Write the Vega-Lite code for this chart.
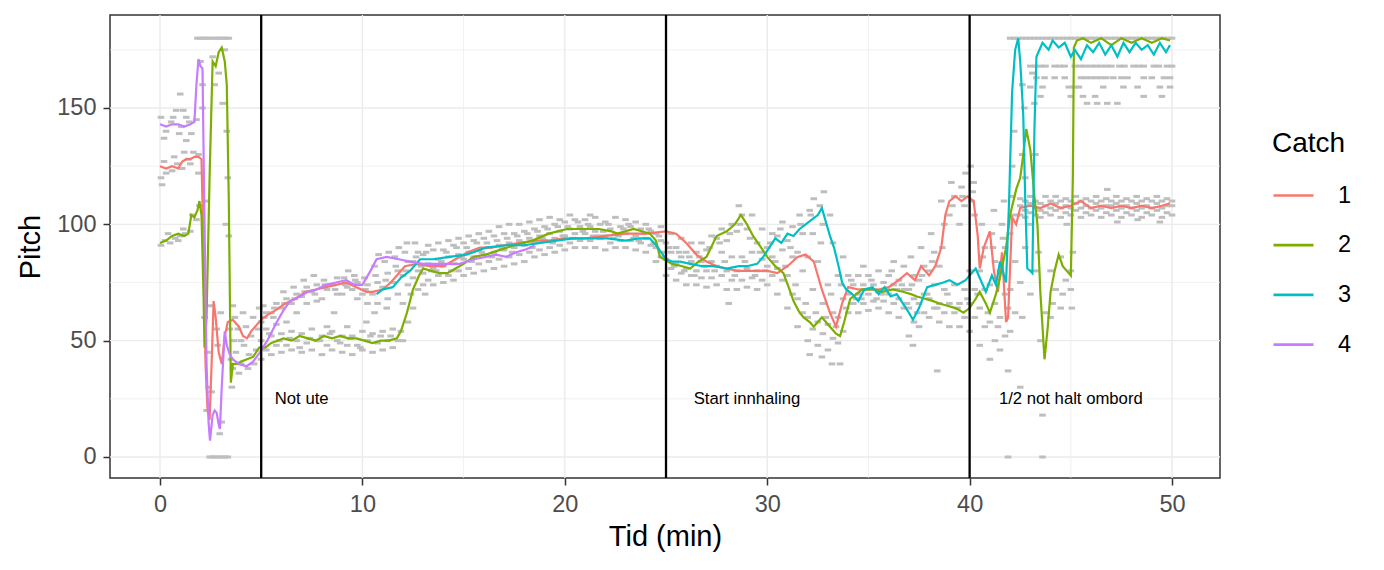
{
  "$schema": "https://vega.github.io/schema/vega-lite/v6.json",
  "width": 1110,
  "height": 463,
  "autosize": {"type": "none"},
  "padding": {"left": 110, "top": 15, "right": 164, "bottom": 92},
  "config": {
    "font": "Liberation Sans",
    "view": {"stroke": "#333333", "strokeWidth": 1.5},
    "axis": {
      "grid": false,
      "domain": false,
      "labelFont": "Liberation Sans",
      "labelFontSize": 23.5,
      "labelColor": "#4D4D4D",
      "tickColor": "#333333",
      "tickWidth": 1.5,
      "tickSize": 7,
      "labelPadding": 7,
      "titleFont": "Liberation Sans",
      "titleFontSize": 29,
      "titleFontWeight": "normal",
      "titleColor": "#000000"
    }
  },
  "datasets": {
    "gx": [
      {"t": 0, "k": "M"}, {"t": 10, "k": "M"}, {"t": 20, "k": "M"}, {"t": 30, "k": "M"}, {"t": 40, "k": "M"}, {"t": 50, "k": "M"},
      {"t": 5, "k": "m"}, {"t": 15, "k": "m"}, {"t": 25, "k": "m"}, {"t": 35, "k": "m"}, {"t": 45, "k": "m"}
    ],
    "gy": [
      {"p": 0, "k": "M"}, {"p": 50, "k": "M"}, {"p": 100, "k": "M"}, {"p": 150, "k": "M"},
      {"p": 25, "k": "m"}, {"p": 75, "k": "m"}, {"p": 125, "k": "m"}, {"p": 175, "k": "m"}
    ],
    "vlines": [{"t": 5}, {"t": 25}, {"t": 40}],
    "notes": [
      {"t": 7, "p": 25, "label": "Not ute"},
      {"t": 29, "p": 25, "label": "Start innhaling"},
      {"t": 45, "p": 25, "label": "1/2 not halt ombord"}
    ],
    "raw": [
      {"t":0.05,"p":91},{"t":0.25,"p":93},{"t":0.5,"p":92},{"t":0.75,"p":94},{"t":1.0,"p":95},{"t":1.25,"p":96},{"t":1.5,"p":97},{"t":0.4,"p":96},{"t":0.9,"p":93},{"t":1.15,"p":98},{"t":1.6,"p":104},{"t":1.8,"p":102},{"t":1.95,"p":108},
      {"t":0.05,"p":120},{"t":0.3,"p":122},{"t":0.6,"p":123},{"t":0.85,"p":126},{"t":1.1,"p":124},{"t":1.4,"p":128},{"t":1.65,"p":131},{"t":1.9,"p":130},{"t":0.2,"p":127},{"t":0.7,"p":129},{"t":1.2,"p":131},{"t":1.5,"p":126},{"t":0.1,"p":117},{"t":1.9,"p":122},
      {"t":0.05,"p":146},{"t":0.3,"p":140},{"t":0.55,"p":144},{"t":0.8,"p":149},{"t":1.05,"p":142},{"t":1.3,"p":146},{"t":1.55,"p":139},{"t":1.8,"p":145},{"t":0.2,"p":137},{"t":0.65,"p":146},{"t":1.15,"p":149},{"t":1.45,"p":144},{"t":0.95,"p":139},{"t":1.3,"p":136},{"t":1.0,"p":156},
      {"t":1.85,"p":180},{"t":2.0,"p":180},{"t":2.15,"p":180},{"t":2.3,"p":180},{"t":2.45,"p":180},{"t":2.65,"p":180},{"t":2.8,"p":180},{"t":2.95,"p":180},{"t":3.1,"p":180},{"t":3.25,"p":180},{"t":3.4,"p":180},
      {"t":2.45,"p":0},{"t":2.6,"p":0},{"t":2.75,"p":0},{"t":2.9,"p":0},{"t":3.05,"p":0},{"t":3.2,"p":0},{"t":3.35,"p":0},
      {"t":2.0,"p":170},{"t":2.1,"p":160},{"t":2.1,"p":150},{"t":2.25,"p":110},{"t":2.2,"p":60},{"t":2.3,"p":20},{"t":2.4,"p":30},{"t":2.35,"p":45},{"t":2.5,"p":65},{"t":2.6,"p":172},{"t":2.7,"p":160},{"t":2.8,"p":55},{"t":2.85,"p":48},{"t":2.9,"p":165},{"t":3.0,"p":62},{"t":3.05,"p":15},{"t":3.1,"p":152},{"t":3.2,"p":175},{"t":3.25,"p":100},{"t":3.3,"p":140},{"t":3.35,"p":120},{"t":3.4,"p":95},{"t":2.95,"p":10},{"t":2.55,"p":28},{"t":3.45,"p":55},
      {"t":3.5,"p":42},{"t":3.6,"p":38},{"t":3.7,"p":60},{"t":3.75,"p":45},{"t":3.85,"p":55},{"t":3.9,"p":36},{"t":4.0,"p":40},{"t":4.1,"p":62},{"t":4.15,"p":48},{"t":4.25,"p":56},{"t":4.35,"p":38},{"t":4.4,"p":44},{"t":4.5,"p":52},{"t":4.6,"p":60},{"t":4.65,"p":40},{"t":4.75,"p":46},{"t":4.85,"p":55},{"t":4.9,"p":64},{"t":3.6,"p":65},{"t":4.0,"p":50},{"t":3.55,"p":30},{"t":3.65,"p":50},
      {"t":5.0,"p":42},{"t":5.25,"p":46},{"t":5.0,"p":50},{"t":5.25,"p":55},{"t":5.0,"p":58},{"t":5.25,"p":62},{"t":5.1,"p":65},
      {"t":5.5,"p":44},{"t":5.75,"p":48},{"t":5.5,"p":52},{"t":5.75,"p":57},{"t":5.5,"p":62},{"t":5.75,"p":66},{"t":5.6,"p":60},
      {"t":6.0,"p":45},{"t":6.25,"p":48},{"t":6.0,"p":53},{"t":6.25,"p":58},{"t":6.0,"p":64},{"t":6.25,"p":68},{"t":6.1,"p":71},
      {"t":6.5,"p":46},{"t":6.75,"p":50},{"t":6.5,"p":54},{"t":6.75,"p":62},{"t":6.5,"p":66},{"t":6.75,"p":70},{"t":6.6,"p":73},
      {"t":7.0,"p":45},{"t":7.25,"p":49},{"t":7.0,"p":53},{"t":7.25,"p":66},{"t":7.0,"p":69},{"t":7.25,"p":73},{"t":7.1,"p":76},
      {"t":7.5,"p":46},{"t":7.75,"p":50},{"t":7.5,"p":55},{"t":7.75,"p":67},{"t":7.5,"p":71},{"t":7.75,"p":74},{"t":7.6,"p":78},
      {"t":8.0,"p":44},{"t":8.25,"p":48},{"t":8.0,"p":52},{"t":8.25,"p":56},{"t":8.0,"p":68},{"t":8.25,"p":72},{"t":8.1,"p":76},
      {"t":8.5,"p":46},{"t":8.75,"p":50},{"t":8.5,"p":54},{"t":8.75,"p":70},{"t":8.5,"p":74},{"t":8.75,"p":77},{"t":8.6,"p":62},
      {"t":9.0,"p":45},{"t":9.25,"p":48},{"t":9.0,"p":52},{"t":9.25,"p":56},{"t":9.0,"p":70},{"t":9.25,"p":73},{"t":9.1,"p":77},{"t":9.3,"p":80},
      {"t":9.5,"p":44},{"t":9.75,"p":48},{"t":9.5,"p":52},{"t":9.75,"p":68},{"t":9.5,"p":72},{"t":9.75,"p":75},{"t":9.6,"p":78},
      {"t":10.0,"p":46},{"t":10.25,"p":50},{"t":10.0,"p":54},{"t":10.25,"p":66},{"t":10.0,"p":70},{"t":10.25,"p":74},{"t":10.1,"p":77},{"t":10.2,"p":58},
      {"t":10.5,"p":45},{"t":10.75,"p":49},{"t":10.5,"p":53},{"t":10.75,"p":66},{"t":10.5,"p":70},{"t":10.75,"p":75},{"t":10.6,"p":82},{"t":10.8,"p":87},{"t":10.6,"p":62},
      {"t":11.0,"p":46},{"t":11.25,"p":50},{"t":11.0,"p":54},{"t":11.25,"p":68},{"t":11.0,"p":73},{"t":11.25,"p":79},{"t":11.1,"p":84},{"t":11.3,"p":88},{"t":11.2,"p":64},
      {"t":11.5,"p":47},{"t":11.75,"p":50},{"t":11.5,"p":55},{"t":11.75,"p":70},{"t":11.5,"p":75},{"t":11.75,"p":80},{"t":11.6,"p":86},{"t":11.8,"p":90},
      {"t":12.0,"p":50},{"t":12.25,"p":58},{"t":12.0,"p":66},{"t":12.25,"p":74},{"t":12.0,"p":78},{"t":12.25,"p":84},{"t":12.1,"p":88},{"t":12.2,"p":92},
      {"t":12.5,"p":64},{"t":12.75,"p":72},{"t":12.5,"p":77},{"t":12.75,"p":80},{"t":12.5,"p":84},{"t":12.75,"p":88},{"t":12.6,"p":92},
      {"t":13.0,"p":74},{"t":13.25,"p":76},{"t":13.0,"p":79},{"t":13.25,"p":83},{"t":13.0,"p":87},{"t":13.25,"p":91},{"t":13.1,"p":70},
      {"t":13.5,"p":74},{"t":13.75,"p":78},{"t":13.5,"p":81},{"t":13.75,"p":85},{"t":13.5,"p":89},{"t":13.75,"p":92},
      {"t":14.0,"p":75},{"t":14.25,"p":78},{"t":14.0,"p":82},{"t":14.25,"p":86},{"t":14.0,"p":89},{"t":14.25,"p":93},
      {"t":14.5,"p":76},{"t":14.75,"p":80},{"t":14.5,"p":83},{"t":14.75,"p":87},{"t":14.5,"p":91},{"t":14.75,"p":94},
      {"t":15.0,"p":78},{"t":15.25,"p":81},{"t":15.0,"p":85},{"t":15.25,"p":88},{"t":15.0,"p":92},{"t":15.25,"p":95},
      {"t":15.5,"p":79},{"t":15.75,"p":83},{"t":15.5,"p":86},{"t":15.75,"p":89},{"t":15.5,"p":93},{"t":15.75,"p":96},
      {"t":16.0,"p":80},{"t":16.25,"p":84},{"t":16.0,"p":87},{"t":16.25,"p":90},{"t":16.0,"p":94},{"t":16.25,"p":97},
      {"t":16.5,"p":81},{"t":16.75,"p":85},{"t":16.5,"p":88},{"t":16.75,"p":91},{"t":16.5,"p":95},{"t":16.75,"p":99},
      {"t":17.0,"p":82},{"t":17.25,"p":86},{"t":17.0,"p":89},{"t":17.25,"p":92},{"t":17.0,"p":96},{"t":17.25,"p":100},
      {"t":17.5,"p":83},{"t":17.75,"p":87},{"t":17.5,"p":90},{"t":17.75,"p":93},{"t":17.5,"p":96},{"t":17.75,"p":100},
      {"t":18.0,"p":84},{"t":18.25,"p":88},{"t":18.0,"p":91},{"t":18.25,"p":94},{"t":18.0,"p":97},{"t":18.25,"p":101},
      {"t":18.5,"p":86},{"t":18.75,"p":89},{"t":18.5,"p":92},{"t":18.75,"p":95},{"t":18.5,"p":98},{"t":18.75,"p":102},
      {"t":19.0,"p":87},{"t":19.25,"p":90},{"t":19.0,"p":93},{"t":19.25,"p":96},{"t":19.0,"p":99},{"t":19.25,"p":103},
      {"t":19.5,"p":88},{"t":19.75,"p":91},{"t":19.5,"p":94},{"t":19.75,"p":97},{"t":19.5,"p":100},{"t":19.75,"p":102},
      {"t":20.0,"p":89},{"t":20.25,"p":92},{"t":20.0,"p":95},{"t":20.25,"p":98},{"t":20.0,"p":101},{"t":20.25,"p":104},
      {"t":20.5,"p":90},{"t":20.75,"p":93},{"t":20.5,"p":96},{"t":20.75,"p":99},{"t":20.5,"p":102},
      {"t":21.0,"p":90},{"t":21.25,"p":93},{"t":21.0,"p":96},{"t":21.25,"p":99},{"t":21.0,"p":102},{"t":21.25,"p":104},
      {"t":21.5,"p":90},{"t":21.75,"p":94},{"t":21.5,"p":97},{"t":21.75,"p":100},{"t":21.5,"p":103},
      {"t":22.0,"p":89},{"t":22.25,"p":92},{"t":22.0,"p":95},{"t":22.25,"p":98},{"t":22.0,"p":101},
      {"t":22.5,"p":90},{"t":22.75,"p":93},{"t":22.5,"p":96},{"t":22.75,"p":99},{"t":22.5,"p":103},
      {"t":23.0,"p":90},{"t":23.25,"p":93},{"t":23.0,"p":96},{"t":23.25,"p":99},{"t":23.0,"p":102},
      {"t":23.5,"p":89},{"t":23.75,"p":92},{"t":23.5,"p":95},{"t":23.75,"p":98},{"t":23.5,"p":101},
      {"t":24.0,"p":88},{"t":24.25,"p":91},{"t":24.0,"p":94},{"t":24.25,"p":97},{"t":24.0,"p":100},
      {"t":24.5,"p":84},{"t":24.75,"p":86},{"t":24.5,"p":90},{"t":24.75,"p":93},{"t":24.5,"p":96},{"t":24.75,"p":99},
      {"t":25.0,"p":78},{"t":25.25,"p":81},{"t":25.0,"p":85},{"t":25.25,"p":88},{"t":25.0,"p":92},{"t":25.25,"p":96},
      {"t":25.5,"p":76},{"t":25.75,"p":79},{"t":25.5,"p":83},{"t":25.75,"p":86},{"t":25.5,"p":90},{"t":25.75,"p":94},
      {"t":26.0,"p":74},{"t":26.25,"p":78},{"t":26.0,"p":81},{"t":26.25,"p":84},{"t":26.0,"p":88},{"t":26.25,"p":92},
      {"t":26.5,"p":74},{"t":26.75,"p":77},{"t":26.5,"p":80},{"t":26.75,"p":84},{"t":26.5,"p":88},{"t":26.75,"p":92},
      {"t":27.0,"p":73},{"t":27.25,"p":77},{"t":27.0,"p":80},{"t":27.25,"p":84},{"t":27.0,"p":89},{"t":27.25,"p":95},
      {"t":27.5,"p":74},{"t":27.75,"p":78},{"t":27.5,"p":82},{"t":27.75,"p":88},{"t":27.5,"p":94},{"t":27.75,"p":98},
      {"t":28.0,"p":72},{"t":28.25,"p":76},{"t":28.0,"p":80},{"t":28.25,"p":86},{"t":28.0,"p":93},{"t":28.25,"p":100},{"t":28.1,"p":66},
      {"t":28.5,"p":72},{"t":28.75,"p":76},{"t":28.5,"p":80},{"t":28.75,"p":86},{"t":28.5,"p":97},{"t":28.75,"p":104},{"t":28.6,"p":108},
      {"t":29.0,"p":73},{"t":29.25,"p":77},{"t":29.0,"p":81},{"t":29.25,"p":88},{"t":29.0,"p":98},{"t":29.25,"p":104},
      {"t":29.5,"p":72},{"t":29.75,"p":76},{"t":29.5,"p":80},{"t":29.75,"p":85},{"t":29.5,"p":92},{"t":29.75,"p":98},
      {"t":30.0,"p":74},{"t":30.25,"p":78},{"t":30.0,"p":82},{"t":30.25,"p":86},{"t":30.0,"p":90},{"t":30.25,"p":96},
      {"t":30.5,"p":70},{"t":30.75,"p":76},{"t":30.5,"p":81},{"t":30.75,"p":89},{"t":30.5,"p":95},{"t":30.75,"p":101},
      {"t":31.0,"p":64},{"t":31.25,"p":70},{"t":31.0,"p":78},{"t":31.25,"p":86},{"t":31.0,"p":93},{"t":31.25,"p":99},
      {"t":31.5,"p":56},{"t":31.75,"p":62},{"t":31.5,"p":68},{"t":31.75,"p":80},{"t":31.5,"p":88},{"t":31.75,"p":96},{"t":31.6,"p":104},
      {"t":32.0,"p":50},{"t":32.25,"p":55},{"t":32.0,"p":60},{"t":32.25,"p":72},{"t":32.0,"p":86},{"t":32.25,"p":96},{"t":32.1,"p":106},{"t":32.3,"p":111},{"t":32.1,"p":44},
      {"t":32.5,"p":48},{"t":32.75,"p":53},{"t":32.5,"p":58},{"t":32.75,"p":66},{"t":32.5,"p":84},{"t":32.75,"p":100},{"t":32.6,"p":108},{"t":32.8,"p":114},{"t":32.7,"p":43},
      {"t":33.0,"p":46},{"t":33.25,"p":51},{"t":33.0,"p":57},{"t":33.25,"p":62},{"t":33.0,"p":74},{"t":33.25,"p":92},{"t":33.1,"p":104},{"t":33.2,"p":40},
      {"t":33.5,"p":49},{"t":33.75,"p":54},{"t":33.5,"p":60},{"t":33.75,"p":68},{"t":33.5,"p":78},{"t":33.75,"p":86},{"t":33.6,"p":40},
      {"t":34.0,"p":62},{"t":34.25,"p":66},{"t":34.0,"p":70},{"t":34.25,"p":74},{"t":34.0,"p":78},
      {"t":34.5,"p":62},{"t":34.75,"p":66},{"t":34.5,"p":70},{"t":34.75,"p":74},{"t":34.5,"p":78},{"t":34.75,"p":82},
      {"t":35.0,"p":63},{"t":35.25,"p":67},{"t":35.0,"p":70},{"t":35.25,"p":74},{"t":35.0,"p":78},
      {"t":35.5,"p":64},{"t":35.75,"p":67},{"t":35.5,"p":71},{"t":35.75,"p":75},{"t":35.5,"p":80},
      {"t":36.0,"p":62},{"t":36.25,"p":66},{"t":36.0,"p":70},{"t":36.25,"p":74},{"t":36.0,"p":78},{"t":36.25,"p":84},
      {"t":36.5,"p":60},{"t":36.75,"p":64},{"t":36.5,"p":68},{"t":36.75,"p":72},{"t":36.5,"p":76},{"t":36.75,"p":82},
      {"t":37.0,"p":52},{"t":37.25,"p":58},{"t":37.0,"p":64},{"t":37.25,"p":68},{"t":37.0,"p":72},{"t":37.25,"p":78},{"t":37.1,"p":86},{"t":37.2,"p":48},
      {"t":37.5,"p":56},{"t":37.75,"p":62},{"t":37.5,"p":66},{"t":37.75,"p":70},{"t":37.5,"p":76},{"t":37.75,"p":82},{"t":37.6,"p":90},
      {"t":38.0,"p":60},{"t":38.25,"p":64},{"t":38.0,"p":68},{"t":38.25,"p":74},{"t":38.0,"p":80},{"t":38.25,"p":88},{"t":38.1,"p":96},
      {"t":38.4,"p":37},{"t":38.5,"p":58},{"t":38.75,"p":62},{"t":38.5,"p":66},{"t":38.75,"p":72},{"t":38.5,"p":82},{"t":38.75,"p":100},{"t":38.6,"p":110},
      {"t":39.0,"p":56},{"t":39.25,"p":62},{"t":39.0,"p":66},{"t":39.25,"p":74},{"t":39.0,"p":104},{"t":39.25,"p":112},{"t":39.1,"p":118},
      {"t":39.5,"p":56},{"t":39.75,"p":60},{"t":39.5,"p":66},{"t":39.75,"p":72},{"t":39.5,"p":100},{"t":39.75,"p":108},{"t":39.6,"p":116},{"t":39.8,"p":122},
      {"t":40.0,"p":54},{"t":40.25,"p":60},{"t":40.0,"p":66},{"t":40.25,"p":72},{"t":40.0,"p":80},{"t":40.25,"p":104},{"t":40.1,"p":110},{"t":40.2,"p":118},{"t":40.05,"p":125},
      {"t":40.5,"p":48},{"t":40.75,"p":56},{"t":40.5,"p":64},{"t":40.75,"p":72},{"t":40.5,"p":80},{"t":40.75,"p":90},{"t":40.6,"p":100},
      {"t":41.0,"p":42},{"t":41.25,"p":50},{"t":41.0,"p":58},{"t":41.25,"p":66},{"t":41.0,"p":74},{"t":41.25,"p":84},{"t":41.1,"p":96},{"t":41.2,"p":106},
      {"t":41.5,"p":46},{"t":41.75,"p":52},{"t":41.5,"p":60},{"t":41.75,"p":70},{"t":41.5,"p":80},{"t":41.75,"p":90},{"t":41.6,"p":100},{"t":41.7,"p":110},
      {"t":5.4,"p":53},{"t":5.15,"p":60},{"t":5.9,"p":50},{"t":5.65,"p":64},{"t":6.4,"p":51},{"t":6.15,"p":66},{"t":6.9,"p":47},{"t":6.65,"p":68},{"t":7.4,"p":51},{"t":7.15,"p":71},
      {"t":7.9,"p":50},{"t":7.65,"p":70},{"t":8.4,"p":53},{"t":8.15,"p":74},{"t":8.9,"p":49},{"t":8.65,"p":72},{"t":9.4,"p":51},{"t":9.15,"p":74},{"t":9.9,"p":47},{"t":9.65,"p":76},
      {"t":10.4,"p":52},{"t":10.15,"p":72},{"t":10.9,"p":52},{"t":10.65,"p":78},{"t":11.4,"p":52},{"t":11.15,"p":76},{"t":11.9,"p":54},{"t":11.65,"p":82},{"t":12.4,"p":70},{"t":12.15,"p":80},
      {"t":12.9,"p":82},{"t":12.65,"p":86},{"t":13.4,"p":80},{"t":13.15,"p":88},{"t":13.9,"p":84},{"t":13.65,"p":80},{"t":14.4,"p":80},{"t":14.15,"p":88},{"t":14.9,"p":86},{"t":14.65,"p":90},
      {"t":15.4,"p":84},{"t":15.15,"p":90},{"t":15.9,"p":88},{"t":15.65,"p":92},{"t":16.4,"p":86},{"t":16.15,"p":92},{"t":16.9,"p":90},{"t":16.65,"p":93},{"t":17.4,"p":88},{"t":17.15,"p":94},
      {"t":17.9,"p":92},{"t":17.65,"p":95},{"t":18.4,"p":90},{"t":18.15,"p":96},{"t":18.9,"p":94},{"t":18.65,"p":97},{"t":19.4,"p":92},{"t":19.15,"p":98},{"t":19.9,"p":95},{"t":19.65,"p":99},
      {"t":20.4,"p":94},{"t":20.15,"p":99},{"t":20.9,"p":97},{"t":20.65,"p":101},{"t":21.4,"p":95},{"t":21.15,"p":100},{"t":21.9,"p":97},{"t":21.65,"p":95},{"t":22.4,"p":94},{"t":22.15,"p":100},
      {"t":22.9,"p":98},{"t":22.65,"p":95},{"t":23.4,"p":94},{"t":23.15,"p":100},{"t":23.9,"p":96},{"t":23.65,"p":93},{"t":24.4,"p":92},{"t":24.15,"p":98},{"t":24.9,"p":88},{"t":24.65,"p":95},
      {"t":25.4,"p":82},{"t":25.15,"p":90},{"t":25.9,"p":80},{"t":25.65,"p":88},{"t":26.4,"p":78},{"t":26.15,"p":86},{"t":26.9,"p":82},{"t":26.65,"p":86},{"t":27.4,"p":80},{"t":27.15,"p":90},
      {"t":27.9,"p":84},{"t":27.65,"p":92},{"t":28.4,"p":78},{"t":28.15,"p":96},{"t":28.9,"p":84},{"t":28.65,"p":100},{"t":29.4,"p":78},{"t":29.15,"p":94},{"t":29.9,"p":80},{"t":29.65,"p":88},
      {"t":30.4,"p":84},{"t":30.15,"p":92},{"t":30.9,"p":82},{"t":30.65,"p":98},{"t":31.4,"p":74},{"t":31.15,"p":90},{"t":31.9,"p":66},{"t":31.65,"p":100},{"t":32.4,"p":62},{"t":32.15,"p":104},
      {"t":32.9,"p":60},{"t":32.65,"p":92},{"t":33.4,"p":56},{"t":33.15,"p":70},{"t":33.9,"p":64},{"t":33.65,"p":74},{"t":34.4,"p":68},{"t":34.15,"p":76},{"t":34.9,"p":72},{"t":34.65,"p":68},
      {"t":35.4,"p":68},{"t":35.15,"p":76},{"t":35.9,"p":72},{"t":35.65,"p":70},{"t":36.4,"p":72},{"t":36.15,"p":80},{"t":36.9,"p":66},{"t":36.65,"p":74},{"t":37.4,"p":62},{"t":37.15,"p":74},
      {"t":37.9,"p":70},{"t":37.65,"p":78},{"t":38.4,"p":64},{"t":38.15,"p":84},{"t":38.9,"p":70},{"t":38.65,"p":90},{"t":39.4,"p":64},{"t":39.15,"p":108},{"t":39.9,"p":68},{"t":39.65,"p":112},
      {"t":40.4,"p":70},{"t":40.15,"p":114},{"t":40.9,"p":62},{"t":40.65,"p":86},{"t":41.4,"p":56},{"t":41.15,"p":90},{"t":41.9,"p":64},{"t":41.65,"p":94},
      {"t":41.9,"p":0},{"t":41.9,"p":37},{"t":42.0,"p":54},{"t":42.25,"p":62},{"t":42.0,"p":72},{"t":42.25,"p":84},{"t":42.0,"p":96},{"t":42.25,"p":104},{"t":42.1,"p":112},{"t":42.1,"p":125},{"t":42.2,"p":140},
      {"t":42.5,"p":30},{"t":42.6,"p":60},{"t":42.5,"p":75},{"t":42.75,"p":90},{"t":42.75,"p":120},{"t":42.6,"p":130},{"t":42.7,"p":150},{"t":42.6,"p":160},
      {"t":43.0,"p":70},{"t":43.25,"p":80},{"t":43.0,"p":100},{"t":43.25,"p":130},{"t":43.1,"p":165},{"t":43.2,"p":152},
      {"t":43.6,"p":0},{"t":43.6,"p":18},{"t":43.5,"p":50},{"t":43.75,"p":62},{"t":43.4,"p":88},
      {"t":44.0,"p":60},{"t":44.25,"p":72},{"t":44.0,"p":80},{"t":44.1,"p":66},
      {"t":44.5,"p":64},{"t":44.75,"p":76},{"t":44.5,"p":86},{"t":44.6,"p":70},
      {"t":45.0,"p":72},{"t":45.0,"p":80},{"t":45.1,"p":88},{"t":45.05,"p":64},
      {"t":42.5,"p":104},{"t":42.5,"p":108},{"t":42.5,"p":111},{"t":42.75,"p":106},{"t":42.75,"p":110},{"t":42.75,"p":103},
      {"t":43.0,"p":105},{"t":43.0,"p":109},{"t":43.0,"p":112},{"t":43.25,"p":104},{"t":43.25,"p":107},{"t":43.25,"p":110},
      {"t":43.5,"p":106},{"t":43.5,"p":109},{"t":43.5,"p":103},{"t":43.75,"p":105},{"t":43.75,"p":108},{"t":43.75,"p":112},
      {"t":44.0,"p":104},{"t":44.0,"p":107},{"t":44.0,"p":110},{"t":44.25,"p":106},{"t":44.25,"p":109},{"t":44.25,"p":112},
      {"t":44.5,"p":103},{"t":44.5,"p":107},{"t":44.5,"p":110},{"t":44.75,"p":105},{"t":44.75,"p":108},{"t":44.75,"p":111},
      {"t":45.0,"p":104},{"t":45.0,"p":107},{"t":45.0,"p":110},{"t":45.25,"p":106},{"t":45.25,"p":109},{"t":45.25,"p":112},
      {"t":45.5,"p":103},{"t":45.5,"p":107},{"t":45.5,"p":110},{"t":45.75,"p":105},{"t":45.75,"p":108},{"t":45.75,"p":111},
      {"t":46.0,"p":104},{"t":46.0,"p":107},{"t":46.0,"p":110},{"t":46.25,"p":106},{"t":46.25,"p":109},{"t":46.25,"p":112},
      {"t":46.5,"p":103},{"t":46.5,"p":107},{"t":46.5,"p":110},{"t":46.75,"p":105},{"t":46.75,"p":108},{"t":46.75,"p":111},
      {"t":47.0,"p":104},{"t":47.0,"p":108},{"t":47.0,"p":110},{"t":47.25,"p":106},{"t":47.25,"p":109},{"t":47.25,"p":112},
      {"t":47.5,"p":103},{"t":47.5,"p":107},{"t":47.5,"p":110},{"t":47.75,"p":105},{"t":47.75,"p":108},{"t":47.75,"p":111},
      {"t":48.0,"p":104},{"t":48.0,"p":107},{"t":48.0,"p":110},{"t":48.25,"p":106},{"t":48.25,"p":109},{"t":48.25,"p":112},
      {"t":48.5,"p":103},{"t":48.5,"p":107},{"t":48.5,"p":110},{"t":48.75,"p":105},{"t":48.75,"p":108},{"t":48.75,"p":111},
      {"t":49.0,"p":104},{"t":49.0,"p":107},{"t":49.0,"p":110},{"t":49.25,"p":106},{"t":49.25,"p":109},{"t":49.25,"p":112},
      {"t":49.5,"p":103},{"t":49.5,"p":107},{"t":49.5,"p":110},{"t":49.75,"p":105},{"t":49.75,"p":108},{"t":49.75,"p":111},
      {"t":50.0,"p":104},{"t":50.0,"p":108},{"t":50.0,"p":110},
      {"t":46.8,"p":115},{"t":48.3,"p":102},{"t":47.3,"p":101},{"t":44.8,"p":100},{"t":49.4,"p":101},
      {"t":42.0,"p":180},{"t":42.2,"p":180},{"t":42.4,"p":180},{"t":42.6,"p":180},{"t":42.8,"p":180},{"t":43.0,"p":180},{"t":43.2,"p":180},{"t":43.4,"p":180},{"t":43.6,"p":180},{"t":43.8,"p":180},
      {"t":44.0,"p":180},{"t":44.2,"p":180},{"t":44.4,"p":180},{"t":44.6,"p":180},{"t":44.8,"p":180},{"t":45.0,"p":180},{"t":45.2,"p":180},{"t":45.4,"p":180},{"t":45.6,"p":180},{"t":45.8,"p":180},
      {"t":46.0,"p":180},{"t":46.2,"p":180},{"t":46.4,"p":180},{"t":46.6,"p":180},{"t":46.8,"p":180},{"t":47.0,"p":180},{"t":47.2,"p":180},{"t":47.4,"p":180},{"t":47.6,"p":180},{"t":47.8,"p":180},
      {"t":48.0,"p":180},{"t":48.2,"p":180},{"t":48.4,"p":180},{"t":48.6,"p":180},{"t":48.8,"p":180},{"t":49.0,"p":180},{"t":49.2,"p":180},{"t":49.4,"p":180},{"t":49.6,"p":180},{"t":49.8,"p":180},{"t":50.0,"p":180},
      {"t":43.0,"p":168},{"t":43.25,"p":168},{"t":43.5,"p":168},{"t":43.75,"p":168},{"t":44.2,"p":168},{"t":44.45,"p":168},{"t":44.7,"p":168},{"t":45.2,"p":168},{"t":45.45,"p":168},{"t":45.7,"p":168},
      {"t":46.0,"p":168},{"t":46.25,"p":168},{"t":46.5,"p":168},{"t":46.75,"p":168},{"t":47.0,"p":168},{"t":47.4,"p":168},{"t":47.65,"p":168},{"t":48.1,"p":168},{"t":48.35,"p":168},{"t":48.6,"p":168},
      {"t":49.1,"p":168},{"t":49.35,"p":168},{"t":49.75,"p":168},{"t":50.0,"p":168},
      {"t":43.3,"p":163},{"t":43.7,"p":163},{"t":44.2,"p":163},{"t":44.7,"p":163},{"t":45.5,"p":163},{"t":45.75,"p":163},{"t":46.0,"p":163},{"t":46.25,"p":163},{"t":46.5,"p":163},{"t":46.75,"p":163},{"t":47.1,"p":163},{"t":47.5,"p":163},{"t":47.8,"p":163},{"t":48.6,"p":163},{"t":49.0,"p":163},{"t":49.6,"p":163},{"t":49.9,"p":163},
      {"t":43.0,"p":159},{"t":43.6,"p":159},{"t":44.9,"p":159},{"t":45.2,"p":159},{"t":45.4,"p":159},{"t":46.6,"p":159},{"t":47.6,"p":159},{"t":48.3,"p":159},{"t":49.4,"p":159},{"t":49.9,"p":159},
      {"t":43.5,"p":155},{"t":45.0,"p":155},{"t":45.6,"p":155},{"t":46.2,"p":155},{"t":48.6,"p":155},{"t":49.5,"p":155},
      {"t":45.8,"p":152},{"t":46.3,"p":152},{"t":46.8,"p":152},{"t":47.3,"p":152}
    ],
    "lines": [
      {"c":"1","t":0,"p":125},{"c":"1","t":0.3,"p":124},{"c":"1","t":0.6,"p":125},{"c":"1","t":0.9,"p":124},{"c":"1","t":1.1,"p":127},{"c":"1","t":1.3,"p":128},{"c":"1","t":1.5,"p":128},{"c":"1","t":1.7,"p":129},{"c":"1","t":1.9,"p":129},{"c":"1","t":2.05,"p":128},
      {"c":"1","t":2.15,"p":90},{"c":"1","t":2.25,"p":40},{"c":"1","t":2.35,"p":20},{"c":"1","t":2.45,"p":16},{"c":"1","t":2.55,"p":40},{"c":"1","t":2.65,"p":67},{"c":"1","t":2.75,"p":60},{"c":"1","t":2.9,"p":45},{"c":"1","t":3.05,"p":40},{"c":"1","t":3.2,"p":52},
      {"c":"1","t":3.35,"p":58},{"c":"1","t":3.6,"p":59},{"c":"1","t":3.9,"p":56},{"c":"1","t":4.1,"p":52},{"c":"1","t":4.3,"p":51},{"c":"1","t":4.5,"p":54},{"c":"1","t":4.8,"p":57},{"c":"1","t":5.0,"p":59},{"c":"1","t":5.3,"p":61},{"c":"1","t":5.7,"p":63},
      {"c":"1","t":6.2,"p":66},{"c":"1","t":6.7,"p":68},{"c":"1","t":7.2,"p":71},{"c":"1","t":7.7,"p":72},{"c":"1","t":8.2,"p":73},{"c":"1","t":8.7,"p":74},{"c":"1","t":9.2,"p":75},{"c":"1","t":9.7,"p":73},{"c":"1","t":10.2,"p":71},{"c":"1","t":10.5,"p":71},
      {"c":"1","t":11.0,"p":72},{"c":"1","t":11.4,"p":75},{"c":"1","t":11.8,"p":79},{"c":"1","t":12.1,"p":82},{"c":"1","t":12.7,"p":83},{"c":"1","t":13.3,"p":82},{"c":"1","t":14.0,"p":82},{"c":"1","t":14.6,"p":85},{"c":"1","t":15.2,"p":88},{"c":"1","t":15.8,"p":90},
      {"c":"1","t":16.4,"p":90},{"c":"1","t":17.0,"p":91},{"c":"1","t":17.8,"p":92},{"c":"1","t":18.5,"p":93},{"c":"1","t":19.2,"p":93},{"c":"1","t":20.0,"p":94},{"c":"1","t":21.0,"p":94},{"c":"1","t":22.0,"p":95},{"c":"1","t":23.0,"p":96},{"c":"1","t":24.0,"p":96},
      {"c":"1","t":25.0,"p":97},{"c":"1","t":25.5,"p":96},{"c":"1","t":26.0,"p":92},{"c":"1","t":26.5,"p":87},{"c":"1","t":27.0,"p":84},{"c":"1","t":27.5,"p":82},{"c":"1","t":28.0,"p":81},{"c":"1","t":28.5,"p":80},{"c":"1","t":29.0,"p":80},{"c":"1","t":29.5,"p":80},
      {"c":"1","t":30.0,"p":80},{"c":"1","t":30.5,"p":79},{"c":"1","t":31.0,"p":82},{"c":"1","t":31.5,"p":86},{"c":"1","t":31.9,"p":87},{"c":"1","t":32.3,"p":84},{"c":"1","t":32.7,"p":72},{"c":"1","t":33.1,"p":62},{"c":"1","t":33.4,"p":56},{"c":"1","t":33.7,"p":66},
      {"c":"1","t":34.0,"p":73},{"c":"1","t":34.5,"p":72},{"c":"1","t":35.0,"p":72},{"c":"1","t":35.5,"p":72},{"c":"1","t":36.0,"p":73},{"c":"1","t":36.5,"p":76},{"c":"1","t":36.9,"p":79},{"c":"1","t":37.3,"p":76},{"c":"1","t":37.6,"p":82},{"c":"1","t":38.0,"p":78},
      {"c":"1","t":38.3,"p":82},{"c":"1","t":38.6,"p":90},{"c":"1","t":38.8,"p":104},{"c":"1","t":39.0,"p":110},{"c":"1","t":39.3,"p":112},{"c":"1","t":39.6,"p":110},{"c":"1","t":39.9,"p":112},{"c":"1","t":40.2,"p":110},{"c":"1","t":40.4,"p":95},{"c":"1","t":40.5,"p":81},
      {"c":"1","t":40.7,"p":90},{"c":"1","t":41.0,"p":97},{"c":"1","t":41.2,"p":80},{"c":"1","t":41.4,"p":71},{"c":"1","t":41.6,"p":88},{"c":"1","t":41.8,"p":58},{"c":"1","t":41.9,"p":60},{"c":"1","t":42.1,"p":103},{"c":"1","t":42.3,"p":100},{"c":"1","t":42.5,"p":107},
      {"c":"1","t":43.0,"p":108},{"c":"1","t":43.5,"p":107},{"c":"1","t":44.0,"p":109},{"c":"1","t":44.5,"p":107},{"c":"1","t":45.0,"p":108},{"c":"1","t":45.5,"p":110},{"c":"1","t":46.0,"p":107},{"c":"1","t":46.5,"p":108},{"c":"1","t":47.0,"p":107},{"c":"1","t":47.5,"p":108},
      {"c":"1","t":48.0,"p":107},{"c":"1","t":48.5,"p":108},{"c":"1","t":49.0,"p":107},{"c":"1","t":49.5,"p":108},{"c":"1","t":49.9,"p":109},
      {"c":"2","t":0,"p":92},{"c":"2","t":0.3,"p":93},{"c":"2","t":0.6,"p":95},{"c":"2","t":0.9,"p":96},{"c":"2","t":1.2,"p":95},{"c":"2","t":1.4,"p":96},{"c":"2","t":1.55,"p":104},{"c":"2","t":1.7,"p":103},{"c":"2","t":1.85,"p":106},{"c":"2","t":1.95,"p":110},
      {"c":"2","t":2.05,"p":104},{"c":"2","t":2.15,"p":70},{"c":"2","t":2.2,"p":47},{"c":"2","t":2.3,"p":60},{"c":"2","t":2.45,"p":120},{"c":"2","t":2.6,"p":170},{"c":"2","t":2.75,"p":168},{"c":"2","t":2.9,"p":174},{"c":"2","t":3.05,"p":176},{"c":"2","t":3.2,"p":170},
      {"c":"2","t":3.3,"p":160},{"c":"2","t":3.4,"p":110},{"c":"2","t":3.5,"p":32},{"c":"2","t":3.6,"p":40},{"c":"2","t":3.8,"p":40},{"c":"2","t":4.0,"p":41},{"c":"2","t":4.3,"p":42},{"c":"2","t":4.6,"p":43},{"c":"2","t":4.9,"p":47},{"c":"2","t":5.2,"p":47},
      {"c":"2","t":5.5,"p":49},{"c":"2","t":5.8,"p":50},{"c":"2","t":6.1,"p":51},{"c":"2","t":6.5,"p":50},{"c":"2","t":6.9,"p":52},{"c":"2","t":7.3,"p":51},{"c":"2","t":7.7,"p":50},{"c":"2","t":8.1,"p":52},{"c":"2","t":8.5,"p":51},{"c":"2","t":8.9,"p":52},
      {"c":"2","t":9.3,"p":51},{"c":"2","t":9.7,"p":51},{"c":"2","t":10.1,"p":50},{"c":"2","t":10.5,"p":49},{"c":"2","t":10.9,"p":50},{"c":"2","t":11.3,"p":50},{"c":"2","t":11.7,"p":51},{"c":"2","t":11.9,"p":54},{"c":"2","t":12.2,"p":62},{"c":"2","t":12.5,"p":72},
      {"c":"2","t":12.8,"p":78},{"c":"2","t":13.0,"p":81},{"c":"2","t":13.4,"p":80},{"c":"2","t":13.8,"p":79},{"c":"2","t":14.2,"p":79},{"c":"2","t":14.6,"p":81},{"c":"2","t":15.0,"p":83},{"c":"2","t":15.5,"p":86},{"c":"2","t":16.1,"p":87},{"c":"2","t":16.8,"p":89},
      {"c":"2","t":17.5,"p":91},{"c":"2","t":18.4,"p":93},{"c":"2","t":19.2,"p":96},{"c":"2","t":20.1,"p":98},{"c":"2","t":21.0,"p":98},{"c":"2","t":21.7,"p":98},{"c":"2","t":22.3,"p":97},{"c":"2","t":22.6,"p":96},{"c":"2","t":23.0,"p":97},{"c":"2","t":23.4,"p":98},
      {"c":"2","t":23.8,"p":97},{"c":"2","t":24.2,"p":96},{"c":"2","t":24.5,"p":93},{"c":"2","t":24.7,"p":86},{"c":"2","t":24.9,"p":85},{"c":"2","t":25.3,"p":83},{"c":"2","t":25.8,"p":82},{"c":"2","t":26.2,"p":81},{"c":"2","t":26.6,"p":84},{"c":"2","t":27.0,"p":86},
      {"c":"2","t":27.5,"p":95},{"c":"2","t":28.0,"p":97},{"c":"2","t":28.4,"p":100},{"c":"2","t":28.7,"p":104},{"c":"2","t":29.0,"p":100},{"c":"2","t":29.3,"p":95},{"c":"2","t":29.7,"p":90},{"c":"2","t":30.0,"p":86},{"c":"2","t":30.4,"p":82},{"c":"2","t":30.8,"p":79},
      {"c":"2","t":31.1,"p":72},{"c":"2","t":31.3,"p":67},{"c":"2","t":31.6,"p":62},{"c":"2","t":31.8,"p":60},{"c":"2","t":32.1,"p":58},{"c":"2","t":32.3,"p":56},{"c":"2","t":32.5,"p":58},{"c":"2","t":32.7,"p":60},{"c":"2","t":32.9,"p":58},{"c":"2","t":33.1,"p":56},
      {"c":"2","t":33.4,"p":53},{"c":"2","t":33.6,"p":52},{"c":"2","t":33.8,"p":58},{"c":"2","t":34.1,"p":68},{"c":"2","t":34.4,"p":70},{"c":"2","t":34.7,"p":72},{"c":"2","t":35.2,"p":72},{"c":"2","t":35.7,"p":71},{"c":"2","t":36.2,"p":72},{"c":"2","t":36.7,"p":71},
      {"c":"2","t":37.1,"p":70},{"c":"2","t":37.4,"p":69},{"c":"2","t":37.8,"p":68},{"c":"2","t":38.2,"p":67},{"c":"2","t":38.5,"p":66},{"c":"2","t":38.9,"p":65},{"c":"2","t":39.3,"p":64},{"c":"2","t":39.7,"p":62},{"c":"2","t":40.0,"p":64},{"c":"2","t":40.3,"p":68},
      {"c":"2","t":40.5,"p":71},{"c":"2","t":40.8,"p":66},{"c":"2","t":41.0,"p":62},{"c":"2","t":41.3,"p":70},{"c":"2","t":41.5,"p":77},{"c":"2","t":41.8,"p":90},{"c":"2","t":42.0,"p":104},{"c":"2","t":42.3,"p":115},{"c":"2","t":42.5,"p":120},{"c":"2","t":42.65,"p":130},
      {"c":"2","t":42.8,"p":141},{"c":"2","t":43.0,"p":132},{"c":"2","t":43.2,"p":112},{"c":"2","t":43.35,"p":100},{"c":"2","t":43.5,"p":70},{"c":"2","t":43.7,"p":42},{"c":"2","t":43.85,"p":55},{"c":"2","t":44.0,"p":71},{"c":"2","t":44.2,"p":80},{"c":"2","t":44.4,"p":87},
      {"c":"2","t":44.6,"p":82},{"c":"2","t":44.8,"p":80},{"c":"2","t":45.0,"p":78},{"c":"2","t":45.1,"p":120},{"c":"2","t":45.15,"p":176},{"c":"2","t":45.3,"p":179},{"c":"2","t":45.6,"p":180},{"c":"2","t":46.0,"p":178},{"c":"2","t":46.5,"p":180},{"c":"2","t":47.0,"p":177},
      {"c":"2","t":47.5,"p":180},{"c":"2","t":48.0,"p":178},{"c":"2","t":48.5,"p":180},{"c":"2","t":49.0,"p":178},{"c":"2","t":49.5,"p":180},{"c":"2","t":49.9,"p":179},
      {"c":"3","t":10.7,"p":70},{"c":"3","t":11.0,"p":72},{"c":"3","t":11.5,"p":73},{"c":"3","t":11.9,"p":77},{"c":"3","t":12.35,"p":80},{"c":"3","t":12.85,"p":85},{"c":"3","t":13.5,"p":85},{"c":"3","t":14.3,"p":86},{"c":"3","t":15.15,"p":87},{"c":"3","t":16.1,"p":90},
      {"c":"3","t":17.1,"p":91},{"c":"3","t":18.0,"p":91},{"c":"3","t":18.8,"p":92},{"c":"3","t":19.6,"p":93},{"c":"3","t":20.4,"p":94},{"c":"3","t":21.3,"p":94},{"c":"3","t":22.1,"p":94},{"c":"3","t":23.0,"p":93},{"c":"3","t":23.7,"p":94},{"c":"3","t":24.2,"p":94},
      {"c":"3","t":24.6,"p":90},{"c":"3","t":25.0,"p":85},{"c":"3","t":25.3,"p":84},{"c":"3","t":25.7,"p":84},{"c":"3","t":26.2,"p":83},{"c":"3","t":26.8,"p":82},{"c":"3","t":27.4,"p":82},{"c":"3","t":28.0,"p":81},{"c":"3","t":28.6,"p":82},{"c":"3","t":29.0,"p":82},
      {"c":"3","t":29.5,"p":83},{"c":"3","t":29.8,"p":86},{"c":"3","t":30.1,"p":90},{"c":"3","t":30.4,"p":94},{"c":"3","t":30.7,"p":92},{"c":"3","t":31.0,"p":96},{"c":"3","t":31.3,"p":95},{"c":"3","t":31.6,"p":98},{"c":"3","t":31.9,"p":100},{"c":"3","t":32.2,"p":102},
      {"c":"3","t":32.5,"p":104},{"c":"3","t":32.7,"p":107},{"c":"3","t":32.9,"p":101},{"c":"3","t":33.1,"p":95},{"c":"3","t":33.3,"p":90},{"c":"3","t":33.5,"p":83},{"c":"3","t":33.7,"p":75},{"c":"3","t":33.9,"p":72},{"c":"3","t":34.2,"p":70},{"c":"3","t":34.5,"p":67},
      {"c":"3","t":34.8,"p":72},{"c":"3","t":35.2,"p":73},{"c":"3","t":35.5,"p":70},{"c":"3","t":35.8,"p":73},{"c":"3","t":36.1,"p":69},{"c":"3","t":36.4,"p":70},{"c":"3","t":36.7,"p":66},{"c":"3","t":37.0,"p":62},{"c":"3","t":37.2,"p":59},{"c":"3","t":37.5,"p":64},
      {"c":"3","t":37.9,"p":73},{"c":"3","t":38.3,"p":74},{"c":"3","t":38.7,"p":75},{"c":"3","t":39.0,"p":76},{"c":"3","t":39.4,"p":74},{"c":"3","t":39.8,"p":76},{"c":"3","t":40.0,"p":78},{"c":"3","t":40.3,"p":81},{"c":"3","t":40.6,"p":75},{"c":"3","t":40.8,"p":71},
      {"c":"3","t":41.1,"p":78},{"c":"3","t":41.3,"p":74},{"c":"3","t":41.5,"p":84},{"c":"3","t":41.8,"p":75},{"c":"3","t":41.95,"p":110},{"c":"3","t":42.1,"p":157},{"c":"3","t":42.25,"p":175},{"c":"3","t":42.4,"p":180},{"c":"3","t":42.5,"p":170},{"c":"3","t":42.65,"p":147},
      {"c":"3","t":42.75,"p":110},{"c":"3","t":42.85,"p":81},{"c":"3","t":43.0,"p":80},{"c":"3","t":43.1,"p":79},{"c":"3","t":43.2,"p":140},{"c":"3","t":43.3,"p":172},{"c":"3","t":43.6,"p":178},{"c":"3","t":43.9,"p":175},{"c":"3","t":44.1,"p":179},{"c":"3","t":44.4,"p":176},
      {"c":"3","t":44.7,"p":178},{"c":"3","t":45.0,"p":172},{"c":"3","t":45.2,"p":175},{"c":"3","t":45.5,"p":171},{"c":"3","t":45.8,"p":177},{"c":"3","t":46.1,"p":174},{"c":"3","t":46.4,"p":178},{"c":"3","t":46.7,"p":173},{"c":"3","t":47.0,"p":177},{"c":"3","t":47.3,"p":172},
      {"c":"3","t":47.6,"p":178},{"c":"3","t":47.9,"p":174},{"c":"3","t":48.2,"p":178},{"c":"3","t":48.5,"p":175},{"c":"3","t":48.8,"p":177},{"c":"3","t":49.1,"p":173},{"c":"3","t":49.4,"p":178},{"c":"3","t":49.7,"p":174},{"c":"3","t":49.9,"p":177},
      {"c":"4","t":0,"p":143},{"c":"4","t":0.3,"p":142},{"c":"4","t":0.6,"p":143},{"c":"4","t":0.9,"p":143},{"c":"4","t":1.2,"p":142},{"c":"4","t":1.5,"p":143},{"c":"4","t":1.7,"p":144},{"c":"4","t":1.8,"p":160},{"c":"4","t":1.9,"p":171},{"c":"4","t":2.0,"p":168},
      {"c":"4","t":2.1,"p":167},{"c":"4","t":2.2,"p":100},{"c":"4","t":2.3,"p":40},{"c":"4","t":2.4,"p":15},{"c":"4","t":2.47,"p":7},{"c":"4","t":2.6,"p":18},{"c":"4","t":2.7,"p":20},{"c":"4","t":2.8,"p":19},{"c":"4","t":2.9,"p":14},{"c":"4","t":2.96,"p":12},
      {"c":"4","t":3.05,"p":30},{"c":"4","t":3.2,"p":54},{"c":"4","t":3.3,"p":48},{"c":"4","t":3.45,"p":44},{"c":"4","t":3.6,"p":42},{"c":"4","t":3.9,"p":40},{"c":"4","t":4.28,"p":39},{"c":"4","t":4.6,"p":41},{"c":"4","t":4.94,"p":45},{"c":"4","t":5.3,"p":50},
      {"c":"4","t":5.77,"p":58},{"c":"4","t":6.1,"p":63},{"c":"4","t":6.42,"p":67},{"c":"4","t":6.9,"p":69},{"c":"4","t":7.3,"p":71},{"c":"4","t":7.74,"p":72},{"c":"4","t":8.2,"p":74},{"c":"4","t":8.7,"p":75},{"c":"4","t":9.2,"p":76},{"c":"4","t":9.6,"p":74},
      {"c":"4","t":10.0,"p":74},{"c":"4","t":10.4,"p":80},{"c":"4","t":10.7,"p":85},{"c":"4","t":11.2,"p":86},{"c":"4","t":11.8,"p":85},{"c":"4","t":12.35,"p":84},{"c":"4","t":13.0,"p":83},{"c":"4","t":13.8,"p":83},{"c":"4","t":14.8,"p":83},{"c":"4","t":15.5,"p":85},
      {"c":"4","t":16.1,"p":86},{"c":"4","t":16.6,"p":87},{"c":"4","t":17.1,"p":86},{"c":"4","t":17.6,"p":88},{"c":"4","t":18.0,"p":89},{"c":"4","t":18.3,"p":90},{"c":"4","t":18.5,"p":91}
    ]
  },
  "layer": [
    {
      "data": {"name": "gx"},
      "mark": {"type": "rule", "color": "#EBEBEB"},
      "encoding": {
        "x": {"field": "t", "type": "quantitative", "title": "Tid (min)", "scale": {"domain": [-2.47, 52.37], "nice": false, "zero": false}, "axis": {"values": [0, 10, 20, 30, 40, 50], "titlePadding": 7}},
        "strokeWidth": {"condition": {"test": "datum.k == 'M'", "value": 1.4}, "value": 0.7}
      }
    },
    {
      "data": {"name": "gy"},
      "mark": {"type": "rule", "color": "#EBEBEB"},
      "encoding": {
        "y": {"field": "p", "type": "quantitative", "title": "Pitch", "scale": {"domain": [-9.03, 189.97], "nice": false, "zero": false}, "axis": {"values": [0, 50, 100, 150], "titlePadding": 11}},
        "strokeWidth": {"condition": {"test": "datum.k == 'M'", "value": 1.4}, "value": 0.7}
      }
    },
    {
      "data": {"name": "raw"},
      "mark": {"type": "point", "shape": "M-1.2,-0.55H1.2V0.55H-1.2Z", "filled": true, "size": 30, "color": "#BEBEBE", "opacity": 1, "strokeWidth": 0},
      "encoding": {
        "x": {"field": "t", "type": "quantitative", "title": "Tid (min)"},
        "y": {"field": "p", "type": "quantitative", "title": "Pitch"}
      }
    },
    {
      "data": {"name": "lines"},
      "mark": {"type": "line", "strokeWidth": 2.2},
      "encoding": {
        "x": {"field": "t", "type": "quantitative", "title": "Tid (min)"},
        "y": {"field": "p", "type": "quantitative", "title": "Pitch"},
        "color": {
          "field": "c",
          "type": "nominal",
          "scale": {"domain": ["1", "2", "3", "4"], "range": ["#F8766D", "#7CAE00", "#00BFC4", "#C77CFF"]},
          "legend": {
            "title": "Catch",
            "orient": "none",
            "legendX": 1162,
            "legendY": 115,
            "padding": 0,
            "titleFont": "Liberation Sans",
            "titleFontSize": 28,
            "titleFontWeight": "normal",
            "titleColor": "#000000",
            "titlePadding": 16,
            "labelFont": "Liberation Sans",
            "labelFontSize": 23.5,
            "labelColor": "#000000",
            "labelOffset": 23,
            "symbolType": "stroke",
            "symbolSize": 1600,
            "symbolStrokeWidth": 2.7,
            "rowPadding": 16.7
          }
        }
      }
    },
    {
      "data": {"name": "vlines"},
      "mark": {"type": "rule", "color": "#000000", "strokeWidth": 2.3},
      "encoding": {
        "x": {"field": "t", "type": "quantitative", "title": "Tid (min)"}
      }
    },
    {
      "data": {"name": "notes"},
      "mark": {"type": "text", "font": "Liberation Sans", "fontSize": 16.7, "color": "#000000", "align": "center", "baseline": "middle"},
      "encoding": {
        "x": {"field": "t", "type": "quantitative", "title": "Tid (min)"},
        "y": {"field": "p", "type": "quantitative", "title": "Pitch"},
        "text": {"field": "label"}
      }
    }
  ]
}
